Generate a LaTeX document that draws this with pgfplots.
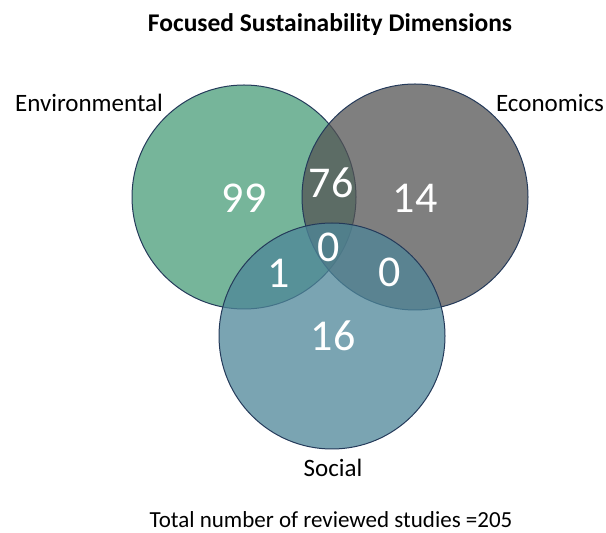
\documentclass[border=0pt]{standalone}
\usepackage{pgfplots}
\pgfplotsset{compat=1.18}
\usepackage{pgfplotstable}
\usepackage{fontspec}
\setmainfont{Carlito}
\definecolor{envc}{RGB}{72,156,120}
\definecolor{ecoc}{RGB}{84,84,84}
\definecolor{socc}{RGB}{78,134,152}
\definecolor{edgec}{RGB}{36,58,90}
\pgfplotstableread{
x y label
244 335 99
331 350 76
415 335 14
329 286 0
279 260 1
390 261 0
333 197 16
}\counts
\begin{document}
\begin{tikzpicture}
\begin{axis}[
  hide axis, scale only axis,
  width=606bp, height=533bp,
  xmin=0, xmax=606, ymin=0, ymax=533,
  clip=false,
]
% circles: centre (x,y), radius in px
\addplot[only marks, mark=*, mark size=112bp,
  mark options={fill=envc, fill opacity=0.75, draw=edgec, draw opacity=1, line width=1bp}]
  coordinates {(244,336)};
\addplot[only marks, mark=*, mark size=113bp,
  mark options={fill=ecoc, fill opacity=0.75, draw=edgec, draw opacity=1, line width=1bp}]
  coordinates {(415,336)};
\addplot[only marks, mark=*, mark size=113bp,
  mark options={fill=socc, fill opacity=0.75, draw=edgec, draw opacity=1, line width=1bp}]
  coordinates {(332,197)};
% region counts
\addplot[only marks, mark=none, nodes near coords, point meta=explicit symbolic,
  every node near coord/.append style={anchor=center, text=white, inner sep=0pt,
    font=\fontsize{44bp}{48bp}\selectfont}]
  table[x=x, y=y, meta=label] {\counts};
\node[font=\fontsize{25.5bp}{30bp}\selectfont\bfseries] at (axis cs:330,508) {Focused Sustainability Dimensions};
\node[font=\fontsize{25bp}{30bp}\selectfont] at (axis cs:89,430) {Environmental};
\node[font=\fontsize{25bp}{30bp}\selectfont] at (axis cs:550,430) {Economics};
\node[font=\fontsize{25bp}{30bp}\selectfont] at (axis cs:333,65) {Social};
\node[font=\fontsize{23bp}{27bp}\selectfont] at (axis cs:331,13) {Total number of reviewed studies =205};
\end{axis}
\pgfresetboundingbox
\useasboundingbox (current axis.south west) rectangle (current axis.north east);
\end{tikzpicture}
\end{document}
